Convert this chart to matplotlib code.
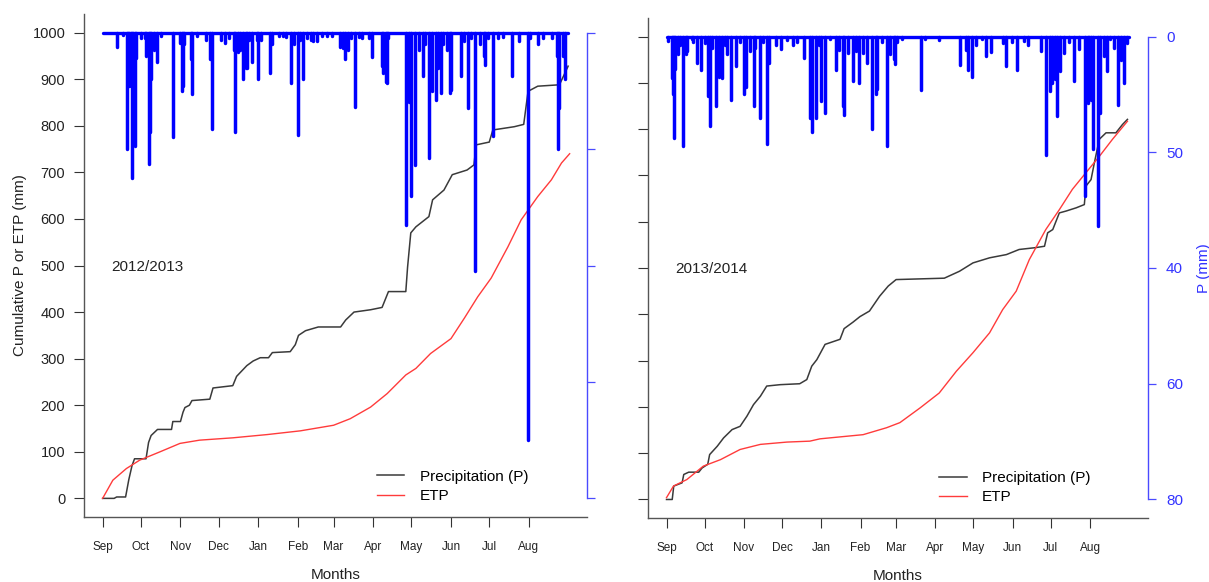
import matplotlib
matplotlib.use("Agg")
import matplotlib.pyplot as plt

plt.rcParams['font.family'] = ['Liberation Sans', 'DejaVu Sans']

# ---- data (days since 1 Sep) ----
month_days = [0, 30, 61, 91, 122, 153, 181, 212, 242, 273, 303, 334]
month_labels = ["Sep", "Oct", "Nov", "Dec", "Jan", "Feb", "Mar", "Apr", "May", "Jun", "Jul", "Aug"]

# 2012/2013 daily rain (mm)
rain_1213_day = [11, 16, 19, 20, 21, 22, 23, 24, 25, 26, 30, 33, 34, 36, 37, 38, 40, 43, 46, 55,
                 61, 62, 63, 64, 69, 70, 74, 81, 84, 86, 93, 96, 99, 103, 104, 106, 108, 110, 112, 113,
                 115, 117, 121, 122, 124, 131, 133, 138, 141, 144, 148, 150, 153, 155, 157, 160, 163, 165, 168, 172,
                 176, 180, 186, 188, 190, 192, 195, 198, 201, 203, 209, 211, 219, 220, 222, 223, 224, 238, 240, 242,
                 245, 248, 251, 253, 256, 258, 261, 263, 265, 267, 270, 272, 273, 281, 283, 286, 289, 292, 296, 299,
                 300, 302, 306, 310, 314, 321, 326, 333, 335, 341, 345, 352, 356, 357, 358, 361, 362]
rain_1213_mm = [2.5, 0.4, 20, 8, 9.2, 9.2, 25, 8, 19.5, 4.3, 0.9, 1, 4, 22.6, 17, 8, 3, 5, 0.6, 18,
                1.7, 10, 9.2, 2, 4.6, 10.6, 0.6, 1.3, 4.6, 16.6, 1.3, 1.7, 1, 3, 17.1, 3.4, 3, 8, 6, 6,
                1.2, 5, 1.2, 8, 1.2, 7, 2, 0.6, 0.6, 0.8, 8.6, 2, 17.6, 1.2, 8, 1, 1.2, 1.5, 1.5, 0.5,
                0.5, 0.6, 2.4, 2.6, 4.5, 3, 1, 12.7, 0.8, 1, 1, 4.2, 5.7, 7, 8.4, 8.6, 1, 33, 12, 28,
                22.7, 3, 7.5, 2, 21.5, 10, 11.5, 6, 10.3, 2, 3, 10.3, 9.8, 7.5, 1.5, 12.9, 1, 41, 2, 4,
                5.5, 1, 17.8, 1, 0.7, 7.5, 1.5, 70, 1, 2, 1, 1, 4, 20, 13, 4, 8]

# 2012/2013 cumulative P and ETP (mm)
cum_p_1213_day = [0, 9, 11, 18, 20.5, 23, 25, 34, 36, 38, 43, 54, 55, 61, 63, 64.5, 68, 70, 84, 86.5,
                  102, 105, 113, 118, 123.5, 130, 133, 147, 151, 153.5, 159, 169, 186.5, 190.5, 197, 210,
                  219, 224, 237.6, 239, 241.5, 245.5, 255.7, 258.6, 267.5, 274, 285.6, 291, 292.7, 303,
                  305.8, 322.6, 330, 333.4, 341, 358, 364.8]
cum_p_1213 = [0, 0, 3, 3, 40, 70, 85, 85, 120, 135, 148, 148, 165, 165, 185, 195, 200, 210, 213, 237,
              242, 262, 285, 295, 302, 302, 313, 315, 330, 350, 360, 368, 368, 383, 400, 405,
              410, 444, 444, 497, 570, 583, 605, 641, 662, 695, 705, 716, 759, 765,
              791, 798, 803, 874, 885, 888, 928]
etp_1213_day = [0, 8, 18.6, 29, 45, 60.6, 76, 102, 129, 155, 181, 194, 210, 223, 237.6, 245.5, 257,
                273, 283.5, 294, 304.5, 317.6, 328, 341, 351.7, 359.6, 366]
etp_1213 = [0, 39, 64, 82, 100, 118, 125, 130, 137, 145, 157, 171, 196, 225, 265, 279, 311,
            343, 387, 433, 473, 540, 598, 648, 684, 720, 740]

# 2013/2014 daily rain (mm)
rain_1314_day = [1, 4, 5, 6, 7, 9, 11, 13, 15, 16, 20, 21, 24, 27, 30, 33, 34, 36, 39, 41,
                 44, 46, 48, 51, 55, 58, 61, 63, 66, 69, 70, 74, 76, 79, 81, 86, 90, 95, 100, 103,
                 108, 113, 115, 118, 120, 122, 125, 129, 134, 136, 139, 140, 143, 147, 149, 152, 155, 158, 162, 165,
                 166, 170, 174, 176, 179, 180, 182, 186, 201, 204, 215, 231, 236, 238, 241, 244, 249, 252, 256, 265,
                 268, 272, 276, 282, 285, 295, 299, 302, 304, 306, 308, 310, 313, 317, 321, 325, 330, 332, 333, 335,
                 336, 340, 342, 345, 347, 350, 353, 356, 358, 361, 363]
rain_1314_mm = [0.8, 7.1, 10, 17.5, 5.6, 3, 1.5, 19, 3, 2.5, 0.5, 1, 4.6, 5.7, 1.2, 10.3, 15.5, 2, 12, 7,
                7.1, 1.5, 3, 10.9, 5.1, 1, 10, 8.8, 2.5, 12, 2, 14.1, 1, 18.5, 4.5, 1.5, 2.2, 0.6, 1.5, 1,
                3.7, 14.1, 16.5, 14, 1.4, 11.2, 13.2, 0.5, 5.7, 2.3, 12, 13.5, 2.8, 7.7, 2.5, 8, 2.8, 4.5, 16, 10,
                9, 1, 19, 3, 3.9, 4.8, 1, 0.5, 9.2, 0.5, 0.6, 4.9, 2.3, 5.8, 7, 1.5, 0.5, 3.3, 2.6, 1.2,
                5.1, 1, 5.7, 0.8, 1.5, 2.5, 20.4, 9.5, 8, 7.3, 13.8, 6, 2.8, 1, 7.7, 2.2, 27.6, 11.5, 7, 10.9,
                19.5, 32.8, 13.2, 3.3, 6, 0.5, 2, 11.8, 4, 8, 1.2]

# 2013/2014 cumulative P and ETP (mm)
cum_p_1314_day = [0, 4.5, 5.7, 12.3, 13.6, 17.5, 25.4, 28, 32.5, 34, 40, 45, 51.7, 58, 63.4, 68.6, 74, 79,
                  89.6, 105, 110.6, 114.5, 118.5, 125, 136.8, 140, 147, 152.5, 160, 168, 174.8, 181, 219,
                  231, 241.6, 254.7, 268, 278, 291, 298, 300.5, 304.5, 309.7, 315, 323, 329.4, 330.7,
                  334.7, 337.3, 341.2, 346.5, 354.3, 359.5, 363.4]
cum_p_1314 = [0, 0, 29, 36, 54, 59, 59, 68, 76, 97, 115, 133, 151, 158, 180, 205, 223, 245,
              248, 250, 259, 288, 302, 335, 346, 369, 383, 395, 407, 439, 461, 475, 478,
              493, 511, 522, 529, 540, 544, 547, 576, 583, 619, 623, 630, 637, 677,
              691, 727, 778, 792, 792, 810, 821]
etp_1314_day = [0, 5.5, 16, 29, 42.5, 58, 74, 95, 113, 121, 155, 173.5, 184, 200, 215, 228.5, 241.6,
                254.7, 265, 275.7, 286, 299, 309.7, 320, 330.7, 341.2, 351.6, 363.4]
etp_1314 = [4, 29, 43, 72, 86, 108, 119, 124, 126, 131, 140, 155, 166, 198, 230, 277, 317,
            360, 410, 450, 518, 583, 626, 670, 706, 741, 778, 817]

rain_ticks = [0, 20, 40, 60, 80]
rain_tick_labels = ["0", "50", "40", "60", "80"]

W, H = 1209, 582
fig = plt.figure(figsize=(W / 100, H / 100), dpi=100)

TXT = "#222222"
BLUE_AX = "#4a4aff"


def px_axes(x0, y0, x1, y1):
    return fig.add_axes([x0 / W, 1 - y1 / H, (x1 - x0) / W, (y1 - y0) / H])


def panel(ax, season, rain_day, rain_mm, p_day, p_val, e_day, e_val, left_labels, right_labels):
    ax.plot(p_day, p_val, color="#3a3a3a", lw=1.1, label="Precipitation (P)")
    ax.plot(e_day, e_val, color="#ff3b3b", lw=1.0, label="ETP")
    ax.set_xlim(-14.6, 379.6)
    ax.set_ylim(-40, 1040)
    ax.set_xticks(month_days)
    ax.set_xticklabels(month_labels, fontsize=8.5, color=TXT)
    ax.set_yticks(range(0, 1001, 100))
    if left_labels:
        ax.tick_params(axis="y", labelsize=10.5, labelcolor=TXT, pad=6)
        ax.set_ylabel("Cumulative P or ETP (mm)", fontsize=11, color=TXT)
        ax.yaxis.set_label_coords(-0.113, 0.5)
    else:
        ax.set_yticklabels([])
    ax.tick_params(axis="both", direction="out", length=7.5, width=0.8, color="#333333")
    ax.tick_params(axis="x", pad=10)
    for s in ["top", "right"]:
        ax.spines[s].set_visible(False)
    for s in ["left", "bottom"]:
        ax.spines[s].set_color("#555555")
        ax.spines[s].set_linewidth(1.0)
    ax.set_xlabel("Months", fontsize=11, color=TXT)
    ax.xaxis.set_label_coords(0.5, -0.101)
    ax.text(7, 497, season, fontsize=11, color=TXT, va="center", ha="left")
    ax.legend(loc="upper left", bbox_to_anchor=(0.5825, 0.094), frameon=False, fontsize=11,
              handlelength=1.8, handletextpad=1.0, labelspacing=0.35, borderpad=0, borderaxespad=0)

    ax2 = ax.twinx()
    ax2.set_ylim(83.2, -3.2)
    ax2.plot([0, 365], [0, 0], color="blue", lw=2.4, solid_capstyle="round")
    ax2.vlines(rain_day, 0, rain_mm, color="blue", lw=2.5, capstyle="round")
    for s in ["top", "left", "bottom"]:
        ax2.spines[s].set_visible(False)
    ax2.spines["right"].set_bounds(0, 80)
    ax2.spines["right"].set_color(BLUE_AX)
    ax2.spines["right"].set_linewidth(1.0)
    ax2.set_yticks(rain_ticks)
    ax2.tick_params(axis="y", direction="out", length=6, width=0.9, color=BLUE_AX, pad=7)
    if right_labels:
        ax2.set_yticklabels(rain_tick_labels, fontsize=11, color="#3333ff")
        ax2.set_ylabel("P (mm)", fontsize=11, color="#3333ff")
        ax2.yaxis.set_label_coords(1.098, 0.5)
    else:
        ax2.set_yticklabels([])
    return ax, ax2


ax_l = px_axes(84, 14, 587, 517)
panel(ax_l, "2012/2013", rain_1213_day, rain_1213_mm, cum_p_1213_day, cum_p_1213,
      etp_1213_day, etp_1213, True, False)

ax_r = px_axes(648, 18, 1148, 518)
panel(ax_r, "2013/2014", rain_1314_day, rain_1314_mm, cum_p_1314_day, cum_p_1314,
      etp_1314_day, etp_1314, False, True)

fig.savefig("out.png", dpi=100)
